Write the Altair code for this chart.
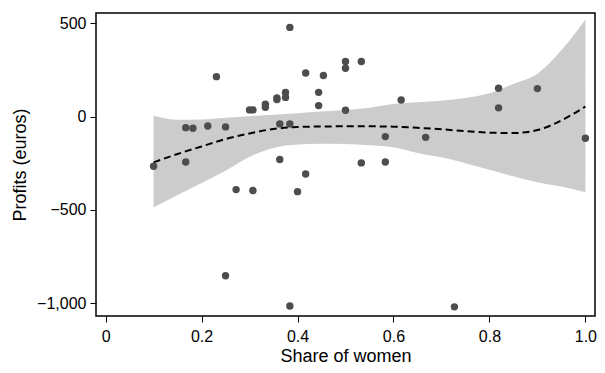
import altair as alt
import pandas as pd

# Scatter data: share of women vs profits (euros)
share = [0.100, 0.167, 0.182, 0.213, 0.250, 0.231, 0.167, 0.300, 0.307, 0.333,
         0.333, 0.357, 0.357, 0.375, 0.375, 0.384, 0.363, 0.384, 0.417, 0.454,
         0.444, 0.444, 0.500, 0.500, 0.533, 0.500, 0.363, 0.417, 0.272, 0.307,
         0.400, 0.533, 0.616, 0.583, 0.667, 0.583, 0.819, 0.819, 0.900, 1.000,
         0.250, 0.384, 0.727]
profit = [-266, -59, -62, -50, -55, 214, -243, 36, 36, 66,
          50, 100, 91, 129, 103, 478, -39, -39, 234, 220,
          130, 59, 295, 259, 295, 34, -230, -307, -391, -396,
          -402, -248, 89, -107, -111, -243, 152, 47, 150, -116,
          -852, -1014, -1019]

# Smoothed fit with confidence band
fit_x = [0.10, 0.15, 0.20, 0.25, 0.30, 0.35, 0.40, 0.45, 0.50, 0.55,
         0.60, 0.65, 0.70, 0.75, 0.80, 0.85, 0.90, 0.95, 1.00]
fit_y = [-245, -200, -160, -120, -90, -66, -56, -53, -52, -52,
         -54, -60, -68, -78, -86, -88, -72, -20, 54]
fit_hi = [5, -17, -16, -6, 2, 10, 18, 27, 35, 48,
          68, 77, 85, 100, 125, 175, 230, 355, 520]
fit_lo = [-486, -420, -355, -290, -215, -168, -150, -146, -147, -153,
          -164, -195, -218, -250, -285, -320, -352, -375, -405]

x_ticks = [0, 0.2, 0.4, 0.6, 0.8, 1.0]
y_ticks = [-1000, -500, 0, 500]

pts = pd.DataFrame({"share": share, "profit": profit})
fit = pd.DataFrame({"x": fit_x, "y": fit_y, "hi": fit_hi, "lo": fit_lo})

FONT = "Liberation Sans"

xscale = alt.Scale(domain=[-0.02, 1.02], nice=False, zero=False)
yscale = alt.Scale(domain=[-1068, 555], nice=False, zero=False)

xaxis = alt.Axis(title="Share of women", values=x_ticks,
                 labelExpr="datum.value == 0 ? '0' : format(datum.value, '.1f')",
                 grid=False, domain=False, tickSize=6, tickColor="black",
                 labelPadding=6, titlePadding=3)
yaxis = alt.Axis(title="Profits (euros)", values=y_ticks, format=",.0f",
                 grid=False, domain=False, tickSize=6, tickColor="black",
                 labelPadding=4, titlePadding=7)

band = alt.Chart(fit).mark_area(color="#cccccc", opacity=1, interpolate="monotone").encode(
    x=alt.X("x:Q", scale=xscale, axis=xaxis),
    y=alt.Y("lo:Q", scale=yscale, axis=yaxis),
    y2="hi:Q",
)

line = alt.Chart(fit).mark_line(color="black", strokeWidth=2, strokeDash=[7, 4],
                                interpolate="monotone").encode(
    x=alt.X("x:Q", scale=xscale, axis=xaxis),
    y=alt.Y("y:Q", scale=yscale, axis=yaxis),
)

points = alt.Chart(pts).mark_circle(color="#4d4d4d", opacity=1, size=55).encode(
    x=alt.X("share:Q", scale=xscale, axis=xaxis),
    y=alt.Y("profit:Q", scale=yscale, axis=yaxis),
)

chart = (band + line + points).properties(
    width=499, height=303,
    background="white",
    autosize=alt.AutoSizeParams(type="none"),
    padding={"left": 88, "top": 5, "right": 2, "bottom": 49},
).configure_view(
    stroke="black", strokeWidth=1.5
).configure_axis(
    labelFont=FONT, titleFont=FONT, labelFontSize=16, titleFontSize=18,
    titleFontWeight="normal", labelColor="black", titleColor="black",
    tickWidth=1,
)

chart.save("out.html", embed_options={"renderer": "svg", "actions": False})
